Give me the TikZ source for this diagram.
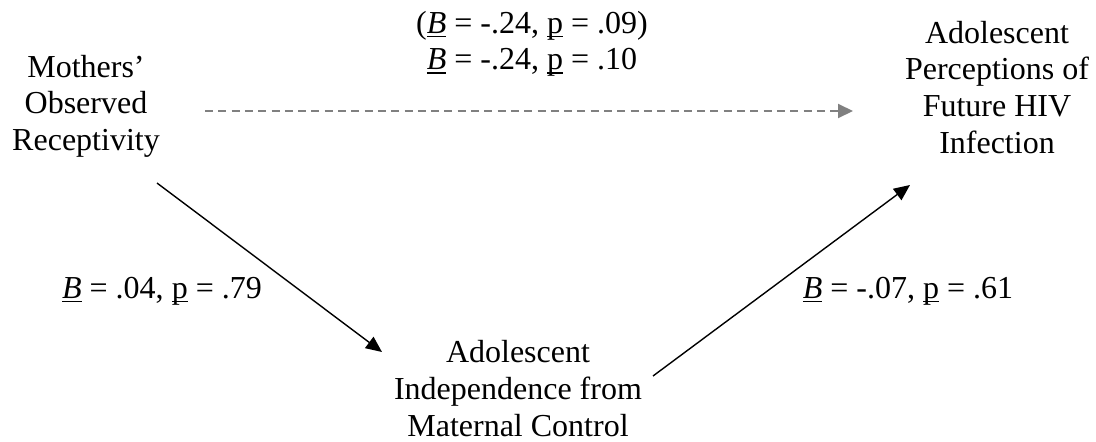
\documentclass[tikz,border=0pt]{standalone}
\usepackage{fontspec}
\setmainfont{Liberation Serif}
\usetikzlibrary{arrows.meta}
\newcommand\myul[1]{\setbox0\hbox{#1}\rlap{\rule[-4pt]{\wd0}{1.5pt}}\box0}
\newcommand\uB{\myul{\textit{B}}}
\newcommand\up{\myul{p}}
\definecolor{dashgray}{HTML}{808080}
\begin{document}
\begin{tikzpicture}[x=1pt,y=-1pt,
  every node/.style={font=\fontsize{32}{36.7}\selectfont, inner sep=0pt, align=center, anchor=base},
  solidarrow/.style={line width=1.4pt, -{Triangle[length=16pt,width=14pt]}},
  dasharrow/.style={line width=2pt, dashgray, dash pattern=on 8pt off 5.3pt, -{Triangle[length=15pt,width=14pt]}}]
\useasboundingbox (0,0) rectangle (1096,442);
\node (mor) at (86,150.4) {Mothers’\\Observed\\Receptivity};
\node (adp) at (997,153.1) {Adolescent\\Perceptions of\\Future HIV\\Infection};
\node (ind) at (518,436) {Adolescent\\Independence from\\Maternal Control};
\node (lc) at (532,69.7) {(\uB{} = -.24, \up{} = .09)\\\uB{} = -.24, \up{} = .10};
\node (la) at (162,298) {\uB{} = .04, \up{} = .79};
\node (lb) at (908,298) {\uB{} = -.07, \up{} = .61};
\coordinate (mor-e) at (205,111);
\coordinate (adp-w) at (853,111);
\coordinate (mor-se) at (157,183);
\coordinate (ind-nw) at (382,352);
\coordinate (ind-ne) at (653,376);
\coordinate (adp-sw) at (910,185);
\draw[dasharrow] (mor-e) -- (adp-w);
\draw[solidarrow] (mor-se) -- (ind-nw);
\draw[solidarrow] (ind-ne) -- (adp-sw);
\end{tikzpicture}
\end{document}
